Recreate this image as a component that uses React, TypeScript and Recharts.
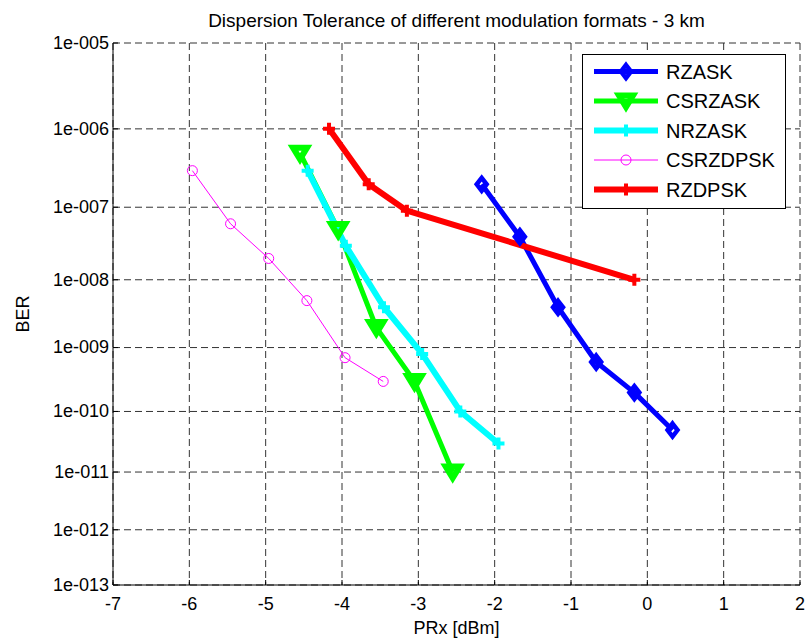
import { LineChart, Line, XAxis, YAxis, CartesianGrid, Legend } from "recharts";

const FONT = '"Liberation Sans", Arial, Helvetica, sans-serif';

// x axis (PRx, dBm)
const xTicks = [-7, -6, -5, -4, -3, -2, -1, 0, 1, 2];
// y axis decades shown as 1e-005 ... 1e-013
const berExponents = [-5, -6, -7, -8, -9, -10, -11, -12, -13];

const rzaskX = [-2.17, -1.67, -1.17, -0.67, -0.17, 0.33];
const rzaskBer = [2e-7, 4e-8, 4e-9, 6e-10, 2e-10, 5e-11];

const csrzaskX = [-4.55, -4.05, -3.55, -3.05, -2.55];
const csrzaskBer = [5e-7, 5e-8, 2e-9, 3e-10, 1e-11];

const nrzaskX = [-4.45, -3.95, -3.45, -2.95, -2.45, -1.95];
const nrzaskBer = [3e-7, 3e-8, 4e-9, 8e-10, 1e-10, 3e-11];

const csrzdpskX = [-5.96, -5.46, -4.96, -4.46, -3.96, -3.46];
const csrzdpskBer = [3e-7, 6e-8, 2e-8, 5e-9, 7e-10, 3e-10];

const rzdpskX = [-4.17, -3.65, -3.15, -0.17];
const rzdpskBer = [1e-6, 2e-7, 9e-8, 1e-8];

// the figure's y axis is linear in the Gaussian Q value: BER = 0.5 * erfc(Q / sqrt(2))
function erfc(x: number) {
  const z = Math.abs(x);
  const t = 1 / (1 + 0.5 * z);
  const r =
    t *
    Math.exp(
      -z * z -
        1.26551223 +
        t * (1.00002368 + t * (0.37409196 + t * (0.09678418 + t * (-0.18628806 +
        t * (0.27886807 + t * (-1.13520398 + t * (1.48851587 + t * (-0.82215223 + t * 0.17087277))))))))
    );
  return x >= 0 ? r : 2 - r;
}
const berFromQ = (q: number) => 0.5 * erfc(q / Math.SQRT2);
function qFromBer(ber: number) {
  let lo = 0;
  let hi = 12;
  for (let i = 0; i < 80; i++) {
    const mid = (lo + hi) / 2;
    if (berFromQ(mid) > ber) lo = mid;
    else hi = mid;
  }
  return (lo + hi) / 2;
}

const yTicks = berExponents.map((e) => qFromBer(Math.pow(10, e)));
const yDomain = [yTicks[0], yTicks[yTicks.length - 1]];
const toRows = (xs: number[], bers: number[]) => xs.map((x, i) => ({ x, q: qFromBer(bers[i]) }));

const DiamondMark = ({ cx, cy, color }: any) => (
  <path
    d={`M${cx},${cy - 6.5}L${cx + 5},${cy}L${cx},${cy + 6.5}L${cx - 5},${cy}Z`}
    fill="none"
    stroke={color}
    strokeWidth={4.5}
    strokeLinejoin="miter"
  />
);
const TriangleMark = ({ cx, cy, color }: any) => (
  <path
    d={`M${cx - 7},${cy - 5.5}L${cx + 7},${cy - 5.5}L${cx},${cy + 6}Z`}
    fill="none"
    stroke={color}
    strokeWidth={6}
    strokeLinejoin="miter"
  />
);
const PlusMark = ({ cx, cy, color }: any) => (
  <path
    d={`M${cx - 6},${cy}L${cx + 6},${cy}M${cx},${cy - 6}L${cx},${cy + 6}`}
    fill="none"
    stroke={color}
    strokeWidth={4}
  />
);
const CircleMark = ({ cx, cy, color }: any) => (
  <circle cx={cx} cy={cy} r={5} fill="none" stroke={color} strokeWidth={1} />
);

const series = [
  { name: "RZASK", color: "#0000ff", width: 5, Mark: DiamondMark, rows: toRows(rzaskX, rzaskBer) },
  { name: "CSRZASK", color: "#00ff00", width: 5, Mark: TriangleMark, rows: toRows(csrzaskX, csrzaskBer) },
  { name: "NRZASK", color: "#00ffff", width: 6, Mark: PlusMark, rows: toRows(nrzaskX, nrzaskBer) },
  { name: "CSRZDPSK", color: "#ff00ff", width: 1, Mark: CircleMark, rows: toRows(csrzdpskX, csrzdpskBer) },
  { name: "RZDPSK", color: "#ff0000", width: 6, Mark: PlusMark, rows: toRows(rzdpskX, rzdpskBer) },
];

const YTick = ({ x, y, index }: any) => {
  const e = berExponents[index];
  return (
    <g>
      <line x1={x + 4} x2={x + 9} y1={y} y2={y} stroke="#000" />
      <text x={x} y={y} dy="0.32em" textAnchor="end" fontFamily={FONT} fontSize={18} fill="#000">
        {`1e-${String(-e).padStart(3, "0")}`}
      </text>
    </g>
  );
};

const XTick = ({ x, y, payload }: any) => (
  <g>
    <line x1={x} x2={x} y1={y - 12} y2={y - 17} stroke="#000" />
    <text x={x} y={y + 13} textAnchor="middle" fontFamily={FONT} fontSize={18} fill="#000">
      {payload.value}
    </text>
  </g>
);

// short inward ticks on the right and top edges, as in the original figure
const RightTick = ({ x, y }: any) => <line x1={x - 5} x2={x} y1={y} y2={y} stroke="#000" />;
const TopTick = ({ x, y }: any) => <line x1={x} x2={x} y1={y} y2={y + 5} stroke="#000" />;

const renderLegend = () => (
  <svg width={204} height={155} style={{ display: "block" }}>
    <rect x={0.5} y={0.5} width={203} height={154} fill="#fff" stroke="#000" />
    {series.map((s, i) => {
      const cy = 17.5 + i * 29.5;
      const M = s.Mark;
      return (
        <g key={s.name}>
          <line x1={12} x2={76} y1={cy} y2={cy} stroke={s.color} strokeWidth={s.width} />
          <M cx={44} cy={cy} color={s.color} />
          <text x={84} y={cy} dy="0.35em" fontFamily={FONT} fontSize={20} fill="#000">
            {s.name}
          </text>
        </g>
      );
    })}
  </svg>
);

export default function App() {
  return (
    <div style={{ position: "absolute", left: 0, top: 0, width: 809, height: 641, background: "#fff" }}>
      <LineChart width={809} height={641} margin={{ top: 43, right: 9, bottom: 0, left: 0 }}>
        <CartesianGrid stroke="#333" strokeDasharray="7 4" />
        <XAxis
          dataKey="x"
          type="number"
          domain={[-7, 2]}
          ticks={xTicks}
          interval={0}
          height={56}
          axisLine={{ stroke: "#000" }}
          tickLine={false}
          tickSize={0}
          tickMargin={12}
          tick={<XTick />}
        />
        <XAxis
          xAxisId="top"
          orientation="top"
          dataKey="x"
          type="number"
          domain={[-7, 2]}
          ticks={xTicks.slice(1, -1)}
          interval={0}
          height={0}
          axisLine={false}
          tickLine={false}
          tickSize={0}
          tickMargin={0}
          tick={<TopTick />}
        />
        <YAxis
          dataKey="q"
          type="number"
          domain={yDomain}
          ticks={yTicks}
          interval={0}
          reversed
          width={113}
          axisLine={{ stroke: "#000" }}
          tickLine={false}
          tickSize={0}
          tickMargin={4}
          tick={<YTick />}
        />
        <YAxis
          yAxisId="right"
          orientation="right"
          dataKey="q"
          type="number"
          domain={yDomain}
          ticks={yTicks.slice(1, -1)}
          interval={0}
          reversed
          width={0}
          axisLine={false}
          tickLine={false}
          tickSize={0}
          tickMargin={0}
          tick={<RightTick />}
        />
        {series.map((s) => (
          <Line
            key={s.name}
            data={s.rows}
            dataKey="q"
            name={s.name}
            stroke={s.color}
            strokeWidth={s.width}
            strokeLinejoin="round"
            isAnimationActive={false}
            activeDot={false}
            dot={(p: any) => <s.Mark key={`${s.name}-${p.index}`} cx={p.cx} cy={p.cy} color={s.color} />}
          />
        ))}
        <Legend
          layout="horizontal"
          verticalAlign="middle"
          align="center"
          wrapperStyle={{ position: "absolute", left: 582, top: 54, width: 204, height: 155 }}
          content={renderLegend}
        />
      </LineChart>
      <svg width={809} height={641} style={{ position: "absolute", left: 0, top: 0, pointerEvents: "none" }}>
        <text x={456.5} y={26.5} textAnchor="middle" fontFamily={FONT} fontSize={19} fill="#000">
          Dispersion Tolerance of different modulation formats - 3 km
        </text>
        <text x={456.5} y={634} textAnchor="middle" fontFamily={FONT} fontSize={18} fill="#000">
          PRx [dBm]
        </text>
        <text
          x={28.5}
          y={314}
          textAnchor="middle"
          transform="rotate(-90 28.5 314)"
          fontFamily={FONT}
          fontSize={18}
          fill="#000"
        >
          BER
        </text>
      </svg>
    </div>
  );
}
